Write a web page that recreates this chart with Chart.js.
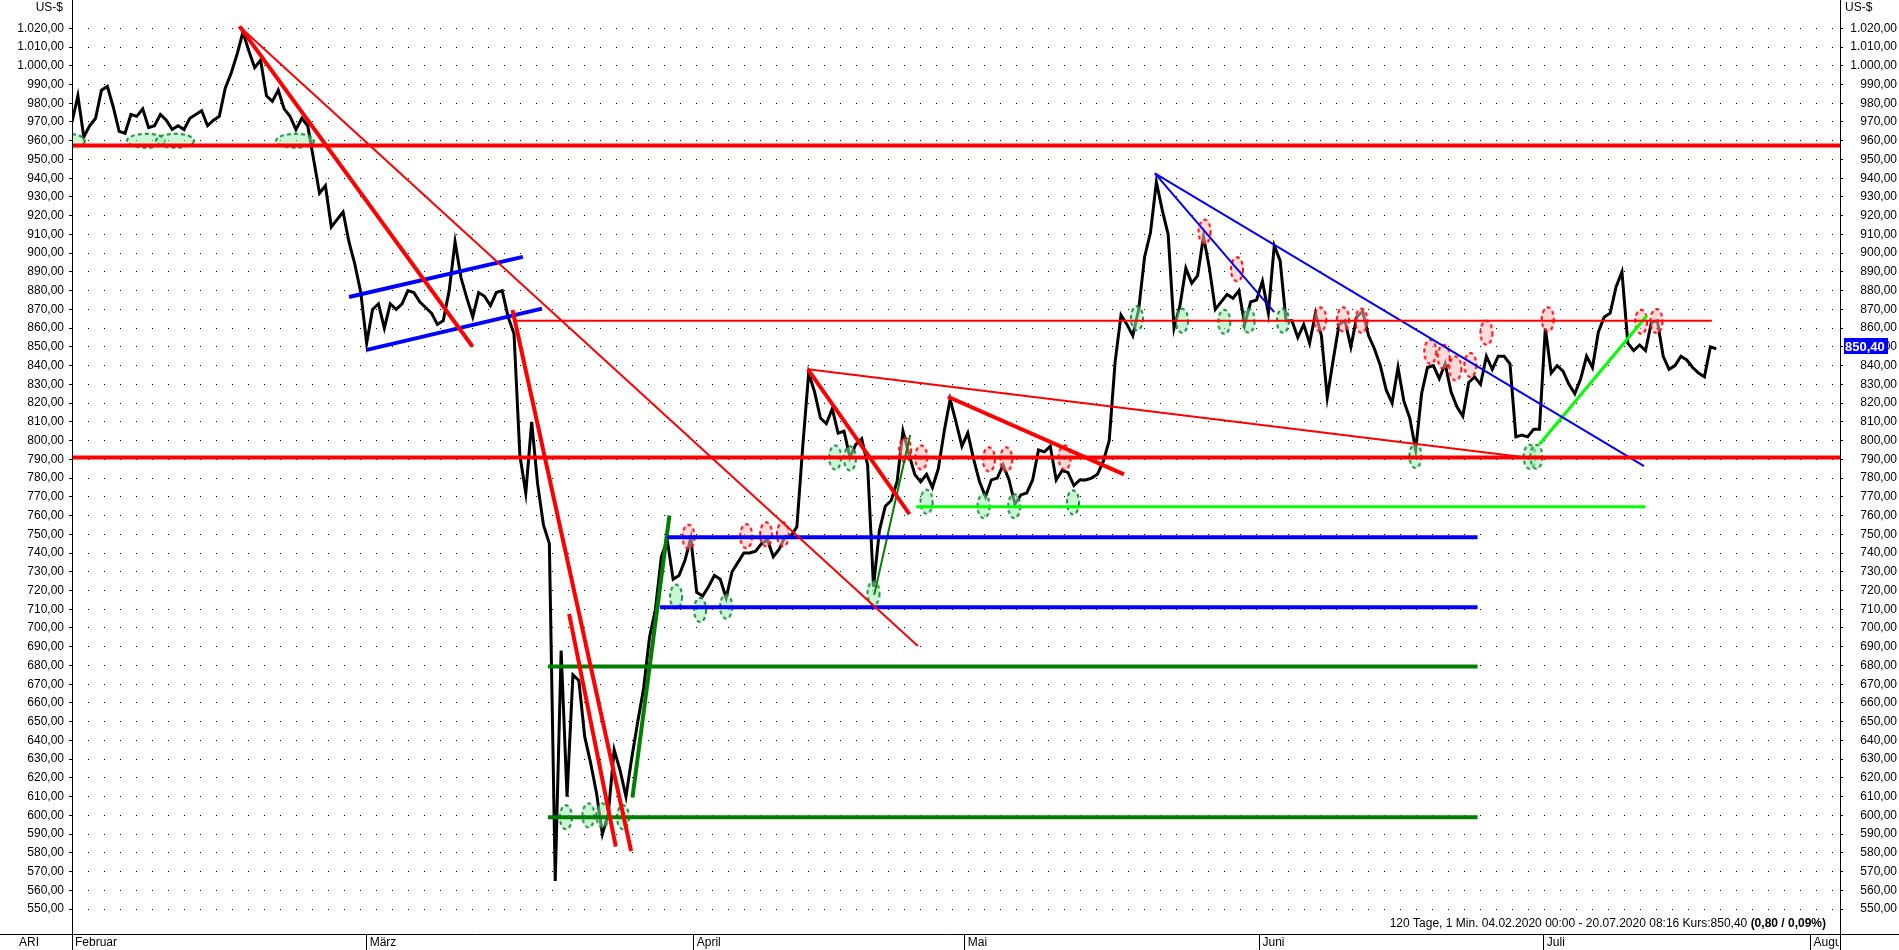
<!DOCTYPE html>
<html>
<head>
<meta charset="utf-8">
<title>ARI - 120 Tage</title>
<script src="https://cdn.jsdelivr.net/npm/chart.js@4.4.1/dist/chart.umd.min.js"></script>
<style>
  html, body { margin: 0; padding: 0; background: #fff; }
</style>
</head>
<body>
<canvas id="kursChart" width="1899" height="950"></canvas>
<script>
/* global Chart */

// Kursverlauf: ein Wert alle 0,4 Handelstage ab Tag 0
const priceStartDay = 0;
const priceStepDay = 0.4;
const priceValues = [
  970, 984, 962, 968, 972, 987, 989, 978, 965, 964,
  974, 973, 977, 967, 968, 974, 971, 966, 968, 966,
  972, 974, 976, 968, 971, 973, 988, 996, 1006, 1018,
  1008, 999, 1003, 984, 981, 987, 977, 973, 966, 972,
  968, 950, 932, 936, 914, 918, 922, 906, 894, 879,
  852, 870, 873, 860, 873, 870, 873, 880, 879, 874,
  871, 868, 862, 864, 880, 906, 887, 876, 866, 879,
  877, 872, 879, 880, 866, 857, 792, 772, 810, 777,
  755, 745, 565, 688, 610, 675, 672, 642, 628, 612,
  590, 601, 635, 624, 610, 631, 650, 668, 695, 710,
  738, 747, 726, 728, 736, 748, 719, 717, 722, 728,
  726, 716, 730, 735, 740, 740, 741, 745, 747, 738,
  742, 749, 749, 754, 797, 836, 826, 812, 809, 817,
  804, 805, 791, 798, 801, 787, 722, 752, 765, 768,
  778, 805, 793, 782, 778, 782, 775, 785, 805, 822,
  810, 797, 804, 790, 778, 770, 779, 780, 787, 779,
  766, 771, 772, 779, 795, 794, 797, 779, 784, 783,
  776, 779, 779, 780, 782, 789, 800, 842, 867, 862,
  856, 870, 898, 911, 938, 923, 910, 860, 872, 892,
  884, 888, 909, 892, 870, 874, 878, 876, 880, 862,
  874, 875, 885, 868, 904, 896, 864, 864, 855, 862,
  852, 868, 856, 823, 843, 862, 864, 850, 866, 869,
  856, 849, 840, 827, 820, 839, 821, 812, 795, 825,
  839, 840, 833, 841, 826, 818, 813, 831, 834, 830,
  845, 838, 845, 845, 841, 802, 803, 802, 806, 806,
  860, 836, 840, 837, 830, 825, 833, 845, 839, 858,
  866, 868, 882, 890, 852, 848, 851, 848, 863, 864,
  845, 838, 840, 845, 843, 839, 836, 834, 850, 849
];

const monthNames = ['Februar', 'März', 'April', 'Mai', 'Juni', 'Juli', 'August'];
const monthDays = [0, 20.0, 42.2, 60.6, 80.6, 99.9, 118.0];

const yTickFirst = 550;
const yTickLast = 1020;
const yTickStep = 10;

const lastPrice = 850.40;
const infoText = '120 Tage, 1 Min. 04.02.2020 00:00 - 20.07.2020 08:16 Kurs:850,40 ';
const infoBold = '(0,80 / 0,09%)';

// eingezeichnete Linien: [Tag1, Kurs1, Tag2, Kurs2]
const segRedHeavy = [
  [0, 957.5, 120, 957.5],
  [0, 791, 120, 791],
  [11.37, 1021, 27.18, 850.2],
  [29.9, 869.7, 37.95, 581],
  [33.74, 707.5, 36.91, 583.3],
  [49.95, 838, 56.84, 760.7],
  [59.45, 823.4, 71.4, 782]
];
const segRedLight = [
  [29.94, 864, 111.3, 864],
  [11.37, 1021, 57.41, 690.4],
  [49.95, 838, 98.85, 790.8]
];
const segBlueHeavy = [
  [40.4, 748.4, 95.4, 748.4],
  [39.9, 711, 95.4, 711],
  [18.8, 876.6, 30.6, 898],
  [20.0, 848.4, 31.9, 870.4]
];
const segBlueLight = [
  [73.5, 942.6, 106.7, 786.4],
  [73.5, 942.6, 81.6, 868.5]
];
const segGreenHeavy = [
  [32.3, 679.5, 95.4, 679.5],
  [32.3, 599, 95.4, 599],
  [38.04, 609.6, 40.55, 760]
];
const segGreenLight = [
  [54.45, 717.7, 56.89, 803]
];
const segLime = [
  [57.3, 764.7, 106.8, 764.7],
  [99.6, 798, 106.9, 866.7]
];

// markierte Punkte (Ellipsen)
const flatMarkX = [-0.4, 5.02, 6.99, 15.14];
const flatMarkY = [960, 960, 960, 960];
const greenMarkX = [33.52, 35.05, 36.0, 37.39, 41.0, 42.63, 44.4, 51.8, 52.8, 54.4, 58.0,
  61.87, 63.95, 67.94, 72.28, 75.34, 78.21, 79.86, 82.19, 91.18, 98.93, 99.39];
const greenMarkY = [599, 600, 600, 599, 716.7, 709.6, 711.4, 791, 790.5, 718.5, 767.4,
  765, 765, 767, 865.3, 864, 863.4, 864, 864, 791.8, 791.4, 791.4];
const redMarkX = [41.84, 45.76, 47.11, 48.25, 56.55, 57.64, 62.23, 63.41, 67.37, 76.87, 79.07,
  84.72, 86.27, 87.51, 92.19, 93.10, 93.89, 94.91, 96.0, 100.16, 106.5, 107.54];
const redMarkY = [748.7, 749, 750, 750, 795, 791, 790, 790, 791, 911.5, 891.4,
  864.7, 864.7, 864, 847.4, 844.7, 838.5, 840.3, 857.6, 864.7, 863.4, 863.8];


const FONT = '"Liberation Sans", Arial, sans-serif';
Chart.defaults.font.family = FONT;

function fmtKurs(v) {
  const parts = v.toFixed(2).split('.');
  return parts[0].replace(/\B(?=(\d{3})+(?!\d))/g, '.') + ',' + parts[1];
}

// dashed oval used as point style
function makeOval(w, h, stroke, fill) {
  const c = document.createElement('canvas');
  c.width = w + 4;
  c.height = h + 4;
  const g = c.getContext('2d');
  g.beginPath();
  g.ellipse(c.width / 2, c.height / 2, w / 2, h / 2, 0, 0, Math.PI * 2);
  g.fillStyle = fill;
  g.fill();
  g.setLineDash([4, 3]);
  g.lineWidth = 2;
  g.strokeStyle = stroke;
  g.stroke();
  return c;
}

const greenFill = 'rgba(160, 240, 180, 0.55)';
const redFill = 'rgba(255, 190, 190, 0.55)';
const flatOval = makeOval(38, 14, '#138a36', greenFill);
const greenOval = makeOval(12, 24, '#138a36', greenFill);
const redOval = makeOval(12, 24, '#ff0000', redFill);

const segGroups = [
  [segRedHeavy, '#ff0000', 4],
  [segRedLight, '#ff0000', 2],
  [segBlueHeavy, '#0000ff', 4],
  [segBlueLight, '#0000ff', 2],
  [segGreenHeavy, '#008000', 4],
  [segGreenLight, '#008000', 2],
  [segLime, '#00ff00', 3]
];

const datasets = [];

segGroups.forEach(function(grp) {
  grp[0].forEach(function(s) {
    datasets.push({
      data: [{x: s[0], y: s[1]}, {x: s[2], y: s[3]}],
      borderColor: grp[1],
      borderWidth: grp[2],
      pointRadius: 0,
      order: 1
    });
  });
});

function markSet(xs, ys, img) {
  return {
    data: xs.map(function(x, i) { return {x: x, y: ys[i]}; }),
    showLine: false,
    pointStyle: img,
    pointRadius: 22,
    clip: 0,
    order: 2
  };
}
datasets.push(markSet(flatMarkX, flatMarkY, flatOval));
datasets.push(markSet(greenMarkX, greenMarkY, greenOval));
datasets.push(markSet(redMarkX, redMarkY, redOval));

datasets.push({
  data: priceValues.map(function(v, i) { return {x: priceStartDay + i * priceStepDay, y: v}; }),
  borderColor: '#000',
  borderWidth: 3,
  pointRadius: 0,
  tension: 0,
  order: 3
});

const yTicks = [];
for (let v = yTickFirst; v <= yTickLast; v += yTickStep) yTicks.push(v);

// frame, month names, captions and last price box
const chromePlugin = {
  id: 'chrome',
  afterDraw(chart) {
    const ctx = chart.ctx;
    const a = chart.chartArea;
    const sc = chart.scales;
    ctx.save();
    ctx.strokeStyle = '#000';
    ctx.lineWidth = 1;
    ctx.beginPath();
    ctx.moveTo(a.left + 0.5, 0); ctx.lineTo(a.left + 0.5, chart.height);
    ctx.moveTo(a.right + 0.5, 0); ctx.lineTo(a.right + 0.5, chart.height);
    ctx.moveTo(0, a.bottom + 0.5); ctx.lineTo(chart.width, a.bottom + 0.5);
    ctx.stroke();

    ctx.font = '12px ' + FONT;
    ctx.fillStyle = '#000';
    ctx.textBaseline = 'middle';

    // months
    ctx.save();
    ctx.beginPath();
    ctx.rect(a.left, a.bottom + 1, a.right - a.left - 1, chart.height - a.bottom);
    ctx.clip();
    ctx.textAlign = 'left';
    monthNames.forEach(function(m, i) {
      ctx.fillText(m, sc.x.getPixelForValue(monthDays[i]) + 3, a.bottom + 9);
    });
    ctx.restore();

    ctx.textAlign = 'center';
    ctx.fillText('ARI', 29, a.bottom + 9);
    ctx.textAlign = 'right';
    ctx.fillText('US-$', a.left - 9, 8);
    ctx.textAlign = 'left';
    ctx.fillText('US-$', a.right + 5, 8);

    // info line
    ctx.textBaseline = 'alphabetic';
    ctx.font = 'bold 12px ' + FONT;
    const wBold = ctx.measureText(infoBold).width;
    ctx.fillText(infoBold, a.right - 14 - wBold, a.bottom - 7);
    ctx.font = '12px ' + FONT;
    const wText = ctx.measureText(infoText).width;
    ctx.fillText(infoText, a.right - 14 - wBold - wText, a.bottom - 7);

    // last price
    const py = Math.round(sc.y2.getPixelForValue(lastPrice));
    ctx.fillStyle = '#0000ff';
    ctx.fillRect(a.right + 4, py - 8, 44, 16);
    ctx.fillStyle = '#fff';
    ctx.font = 'bold 13px ' + FONT;
    ctx.textBaseline = 'middle';
    ctx.fillText(fmtKurs(lastPrice), a.right + 5, py + 1);
    ctx.restore();
  }
};

const tickFont = {family: FONT, size: 12};

// eslint-disable-next-line no-unused-vars
const chart = new Chart(document.getElementById('kursChart'), {
  type: 'line',
  data: { datasets: datasets },
  options: {
    responsive: false,
    animation: false,
    events: [],
    layout: { autoPadding: false, padding: { left: 0, right: 2, top: 0, bottom: 0 } },
    plugins: { legend: { display: false }, tooltip: { enabled: false } },
    scales: {
      x: {
        type: 'linear',
        position: 'bottom',
        min: 0,
        max: 120,
        afterBuildTicks: function(s) { s.ticks = monthDays.map(function(v) { return {value: v}; }); },
        afterFit: function(s) { s.height = 16; s.paddingLeft = 0; s.paddingRight = 0; },
        grid: { drawOnChartArea: false, drawTicks: true, tickLength: 16, color: '#000', lineWidth: 1 },
        border: { display: false },
        ticks: { display: false }
      },
      y: {
        type: 'linear',
        position: 'left',
        min: 536.7,
        max: 1035.1,
        afterBuildTicks: function(s) { s.ticks = yTicks.map(function(v) { return {value: v}; }); },
        afterFit: function(s) { s.width = 72; s.paddingTop = 0; s.paddingBottom = 0; },
        grid: { color: '#000', lineWidth: 1, drawTicks: true, tickLength: 3, tickColor: '#000' },
        border: { display: false, dash: [1, 15] },
        ticks: { padding: 5, font: tickFont, color: '#000', callback: function(v) { return fmtKurs(v); } }
      },
      y2: {
        type: 'linear',
        position: 'right',
        min: 536.7,
        max: 1035.1,
        afterBuildTicks: function(s) { s.ticks = yTicks.map(function(v) { return {value: v}; }); },
        afterFit: function(s) { s.width = 57; s.paddingTop = 0; s.paddingBottom = 0; },
        grid: { drawOnChartArea: false, drawTicks: true, tickLength: 3, tickColor: '#000' },
        border: { display: false },
        ticks: { padding: 5, crossAlign: 'far', font: tickFont, color: '#000', callback: function(v) { return fmtKurs(v); } }
      }
    }
  },
  plugins: [chromePlugin]
});
</script>
</body>
</html>
